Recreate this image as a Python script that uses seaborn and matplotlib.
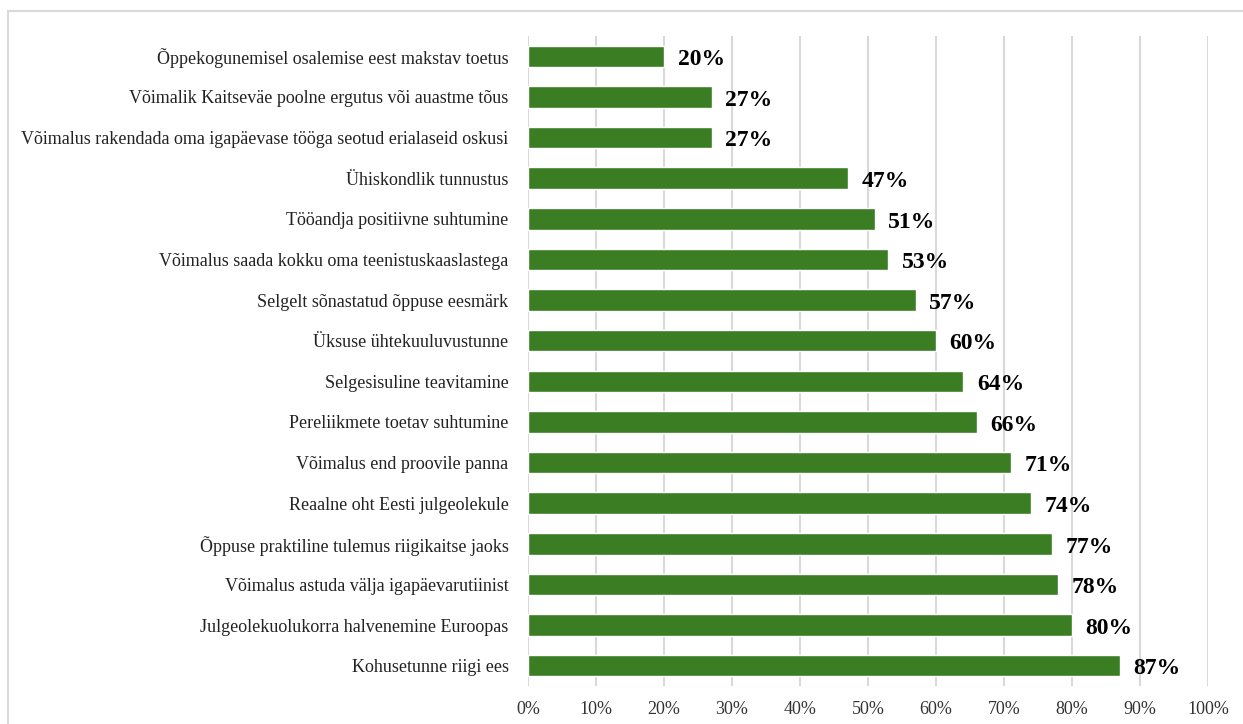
import matplotlib
matplotlib.use("Agg")
import matplotlib.pyplot as plt
import seaborn as sns
import pandas as pd
from matplotlib.patches import Rectangle
from matplotlib.ticker import PercentFormatter

# Andmed (loetud jooniselt)
kategooriad = [
    "Õppekogunemisel osalemise eest makstav toetus",
    "Võimalik Kaitseväe poolne ergutus või auastme tõus",
    "Võimalus rakendada oma igapäevase tööga seotud erialaseid oskusi",
    "Ühiskondlik tunnustus",
    "Tööandja positiivne suhtumine",
    "Võimalus saada kokku oma teenistuskaaslastega",
    "Selgelt sõnastatud õppuse eesmärk",
    "Üksuse ühtekuuluvustunne",
    "Selgesisuline teavitamine",
    "Pereliikmete toetav suhtumine",
    "Võimalus end proovile panna",
    "Reaalne oht Eesti julgeolekule",
    "Õppuse praktiline tulemus riigikaitse jaoks",
    "Võimalus astuda välja igapäevarutiinist",
    "Julgeolekuolukorra halvenemine Euroopas",
    "Kohusetunne riigi ees",
]
vaartused = [20, 27, 27, 47, 51, 53, 57, 60, 64, 66, 71, 74, 77, 78, 80, 87]
x_ticks = [0, 10, 20, 30, 40, 50, 60, 70, 80, 90, 100]

df = pd.DataFrame({"tegur": kategooriad, "protsent": vaartused})

sns.set_theme(style="white")
plt.rcParams["font.family"] = ["Liberation Serif", "DejaVu Serif"]

fig = plt.figure(figsize=(12.43, 7.24), dpi=100)
ax = fig.add_axes([0.4248, 0.0525, 0.5470, 0.8978])
ax.set_axisbelow(True)

roheline = "#3b7d23"
sns.barplot(data=df, x="protsent", y="tegur", color=roheline, width=0.53,
            saturation=1, ax=ax)

# väärtuste sildid tulpade järel
for p in ax.patches:
    w = p.get_width()
    ax.text(w + 2.0, p.get_y() + p.get_height() / 2 + 0.08, f"{w:.0f}%",
            ha="left", va="center", fontsize=17, fontweight="bold",
            color="black", zorder=4)

ax.set_xlim(0, 100)
ax.set_ylim(15.5, -0.5)
ax.set_xticks(x_ticks)
ax.xaxis.set_major_formatter(PercentFormatter(decimals=0))
ax.grid(axis="x", color="#d9d9d9", linewidth=1.5)
ax.grid(axis="y", visible=False)
for s in ax.spines.values():
    s.set_visible(False)
ax.set_xlabel("")
ax.set_ylabel("")
ax.tick_params(axis="x", length=0, pad=11, labelsize=13, labelcolor="#333333")
ax.tick_params(axis="y", length=0, pad=14, labelsize=13, labelcolor="#222222")

# raam ümber joonise (ülemine ja vasak serv)
raam = Rectangle((8 / 1243, -0.1), 1.2, 1.1 - 11 / 724, transform=fig.transFigure,
                 fill=False, edgecolor="#d9d9d9", linewidth=1.5, zorder=0)
fig.patches.append(raam)

fig.savefig("out.png", dpi=100)
